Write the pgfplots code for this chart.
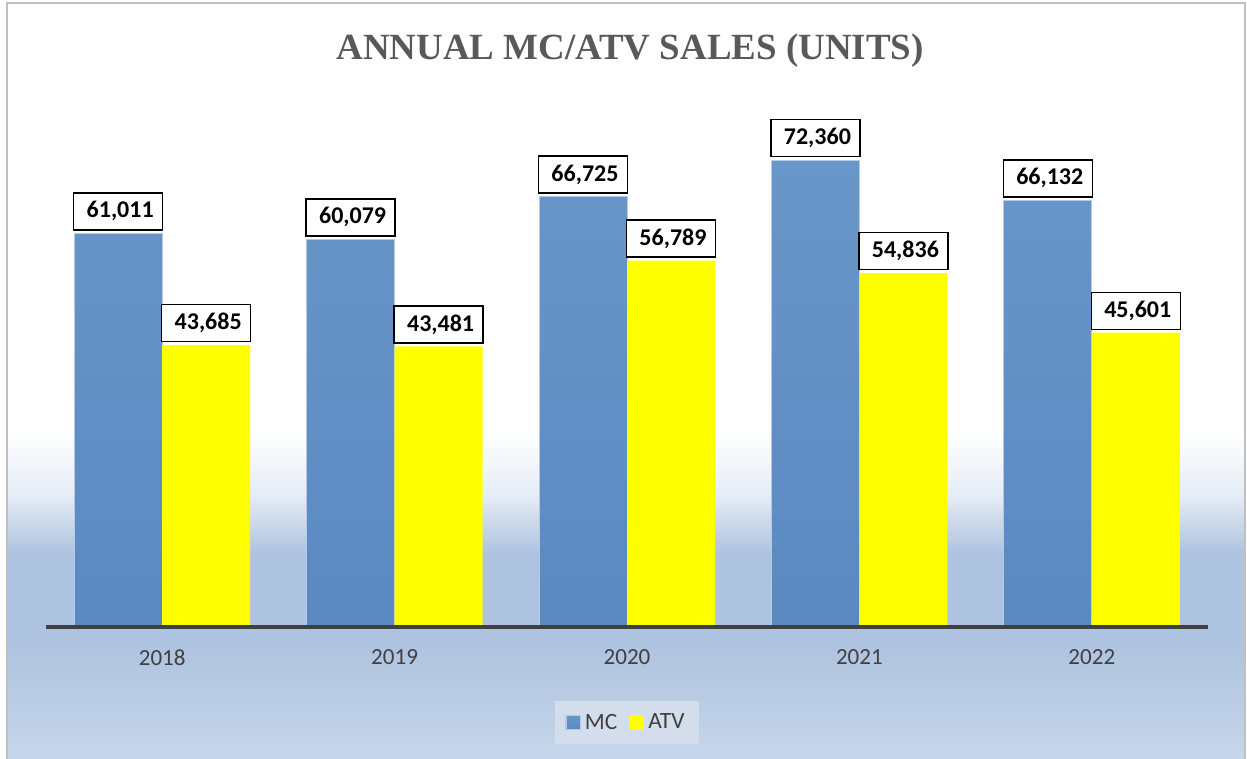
\documentclass[border=0pt]{standalone}
\usepackage{pgfplots}
\pgfplotsset{compat=1.18}
\usepackage{fontspec}
\setmainfont{Carlito}
\newfontfamily\carlito{Carlito}
\newfontfamily\titlefont{Liberation Serif}
\definecolor{mcTop}{HTML}{6A97C9}
\definecolor{mcBot}{HTML}{5A88C1}
\definecolor{mcMid}{HTML}{6390C5}
\definecolor{mcEdge}{HTML}{B4C9E4}
\definecolor{atv}{HTML}{FFFF00}
\definecolor{bgBot}{HTML}{C6D6EA}
\definecolor{bgMid}{HTML}{AEC3DF}
\definecolor{bgLight}{HTML}{E6EDF6}
\definecolor{legbg}{HTML}{D3DDEB}
\definecolor{axisgray}{HTML}{404040}
\definecolor{titlegray}{HTML}{595959}
\definecolor{framegray}{HTML}{C0C0C0}
\pgfdeclareverticalshading{bgshade}{100bp}{color(0bp)=(bgBot); color(25bp)=(bgBot); color(32.8bp)=(bgMid); color(38.6bp)=(bgMid); color(42.5bp)=(bgLight); color(46.7bp)=(white); color(75bp)=(white); color(100bp)=(white)}
\newcommand{\legfont}{\carlito\fontsize{17.5}{20}\selectfont}
\begin{document}
\begin{tikzpicture}
\useasboundingbox (0pt,0pt) rectangle (935.25pt,569.25pt);
\fill[white] (0pt,0pt) rectangle (935.25pt,569.25pt);
\shade[shading=bgshade] (5.25pt,0pt) rectangle (933.75pt,567pt);
\draw[framegray, line width=1.5pt] (5.25pt,-4pt) -- (5.25pt,567pt) -- (933.75pt,567pt) -- (933.75pt,-4pt);
\node[font=\titlefont\bfseries\fontsize{27.7}{32}\selectfont, text=titlegray, anchor=base] at (472.5pt,524.25pt) {ANNUAL MC/ATV SALES (UNITS)};
\begin{axis}[
  at={(34.5pt,99pt)}, anchor=south west, scale only axis,
  width=871.5pt, height=387.2pt,
  xmin=-0.5, xmax=4.5, ymin=0, ymax=80000,
  enlargelimits=false, clip=false, axis on top,
  axis x line*=bottom, axis y line=none,
  x axis line style={line width=3pt, color=axisgray},
  xtick=data, xticklabels={2018,2019,2020,2021,2022},
  major tick length=0pt,
  xticklabel style={font=\carlito\fontsize{17.3}{20}\selectfont, text=axisgray, yshift=-13.5pt},
  ybar=0pt, bar width=66pt,
  /pgf/number format/assume math mode=true,
  /pgf/number format/1000 sep={,},
  nodes near coords={\hspace*{3pt}\pgfmathprintnumber{\pgfplotspointmeta}},
  every node near coord/.append style={draw=black, line width=1.1pt, fill=white, text=black,
     font=\carlito\bfseries\fontsize{18}{20}\selectfont,
     minimum width=66.75pt, minimum height=27.75pt, inner sep=0pt, anchor=south, yshift=2pt},
  legend style={at={(0.5,-0.185)}, anchor=center, draw=none, fill=legbg,
     legend columns=-1, text=axisgray,
     nodes={inner xsep=3pt, inner ysep=2pt, text=axisgray},
     inner xsep=8pt, inner ysep=8pt,
     /tikz/every even column/.append style={column sep=6pt}},
]
\addplot[top color=mcTop, bottom color=mcBot, draw=mcEdge, line width=0.75pt,
  legend image code/.code={\filldraw[fill=mcMid, draw=mcEdge, line width=0.8pt] (0pt,-5.2pt) rectangle (10.8pt,5.6pt);}]
  coordinates {(0,61011) (1,60079) (2,66725) (3,72360) (4,66132)};
\addlegendentry{\legfont MC}
\addplot[fill=atv, draw=none,
  legend image code/.code={\fill[atv] (0pt,-5.4pt) rectangle (11.2pt,5.8pt);}]
  coordinates {(0,43685) (1,43481) (2,56789) (3,54836) (4,45601)};
\addlegendentry{\legfont ATV}
\end{axis}
\end{tikzpicture}
\end{document}
